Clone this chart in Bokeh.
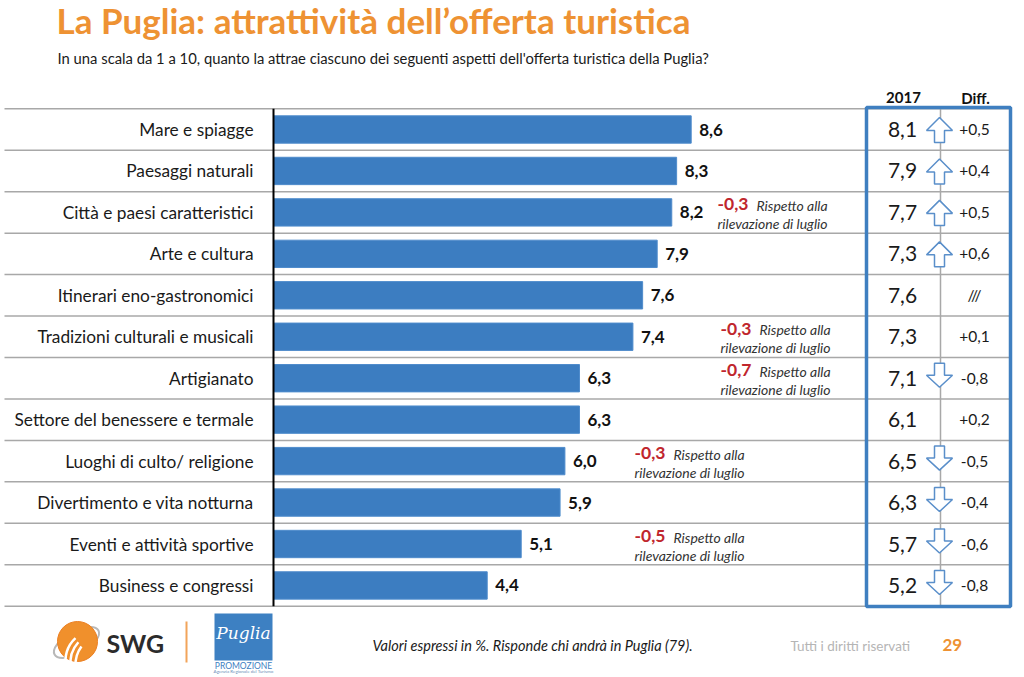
from bokeh.plotting import figure
from bokeh.models import Range1d, ColumnDataSource, Label
from bokeh.core.properties import value
from bokeh.embed import file_html
from bokeh.resources import INLINE

# ---------------- data ----------------
categories = ["Mare e spiagge", "Paesaggi naturali", "Città e paesi caratteristici",
              "Arte e cultura", "Itinerari eno-gastronomici", "Tradizioni culturali e musicali",
              "Artigianato", "Settore del benessere e termale", "Luoghi di culto/ religione",
              "Divertimento e vita notturna", "Eventi e attività sportive", "Business e congressi"]
scores = [8.6, 8.3, 8.2, 7.9, 7.6, 7.4, 6.3, 6.3, 6.0, 5.9, 5.1, 4.4]
scores_2017 = [8.1, 7.9, 7.7, 7.3, 7.6, 7.3, 7.1, 6.1, 6.5, 6.3, 5.7, 5.2]
july_change = [None, None, -0.3, None, None, -0.3, -0.7, None, -0.3, None, -0.5, None]

title = "La Puglia: attrattività dell\u2019offerta turistica"
subtitle = "In una scala da 1 a 10, quanto la attrae ciascuno dei seguenti aspetti dell'offerta turistica della Puglia?"
footnote = "Valori espressi in %. Risponde chi andrà in Puglia (79)."
rights = "Tutti i diritti riservati"
page_no = "29"

# ---------------- layout ----------------
W, H = 1024, 677
X0, PXU = 273.0, 48.57      # pixel of value 0, pixels per unit
Y0, ROW = 129.0, 41.45      # pixel of first row centre, row pitch


def X(px):
    return (px - X0) / PXU


def Y(py):
    return (py - Y0) / ROW


FNAME = "Lato"
FONT = value(FNAME)
BLUE = "#3c7dc1"
ORANGE = "#ee9233"
RED = "#c0262d"
GRID = "#a8a8a8"

note_px = {2: 717, 5: 720, 6: 720, 8: 634, 10: 634}


def fmt(v):
    return f"{v:.1f}".replace(".", ",")


n = len(categories)
idx = list(range(n))

p = figure(width=W, height=H, x_range=Range1d(X(0), X(W)), y_range=Range1d(Y(H), Y(0)),
           output_backend="svg", toolbar_location=None, min_border=0,
           x_axis_location=None, y_axis_location=None)
p.grid.visible = False
p.outline_line_color = None
p.background_fill_color = "white"
p.border_fill_color = "white"

# row separators
seps = [i - 0.5 for i in range(n + 1)]
p.segment(x0=[X(4)] * len(seps), x1=[X(1010)] * len(seps), y0=seps, y1=seps,
          line_color=GRID, line_width=1.5)

# bars
src = ColumnDataSource(dict(y=idx, cat=categories, v=scores,
                            vlab=[fmt(s) for s in scores]))
p.hbar(y="y", left=0, right="v", height=0.66, source=src,
       fill_color=BLUE, line_color="#4f8ccc", line_width=1)

# axis line
p.segment(x0=[0], x1=[0], y0=[-0.5], y1=[n - 0.5], line_color="black", line_width=2)

# category labels
p.text(x=0, y="y", text="cat", source=src, x_offset=-20, text_align="right",
       text_baseline="middle", text_font=FONT, text_font_size="17.3px", text_color="#1a1a1a")

# value labels
p.text(x="v", y="y", text="vlab", source=src, x_offset=8, text_align="left",
       text_baseline="middle", text_font=FONT, text_font_size="17px",
       text_font_style="bold", text_color="#111111")

# notes vs July
nx, ny, nt = [], [], []
for i, c in enumerate(july_change):
    if c is None:
        continue
    nx.append(X(note_px[i]))
    ny.append(i)
    nt.append(fmt(c))
p.text(x=nx, y=[y - 8 / ROW for y in ny], text=nt, text_align="left", text_baseline="middle",
       text_font=FONT, text_font_size="17.5px", text_font_style="bold", text_color=RED)
p.text(x=[x + 39 / PXU for x in nx], y=[y - 7 / ROW for y in ny], text=["Rispetto alla"] * len(nx),
       text_align="left", text_baseline="middle", text_font=FONT, text_font_size="14px",
       text_font_style="italic", text_color="#333333")
p.text(x=nx, y=[y + 11 / ROW for y in ny], text=["rilevazione di luglio"] * len(nx),
       text_align="left", text_baseline="middle", text_font=FONT, text_font_size="14px",
       text_font_style="italic", text_color="#333333")

# ---- 2017 table ----
p.segment(x0=[X(940)], x1=[X(940)], y0=[-0.5], y1=[n - 0.5], line_color=GRID, line_width=1.5)

diffs = [round(s - o, 1) for s, o in zip(scores, scores_2017)]
diff_lab = ["///" if d == 0 else f"{d:+.1f}".replace(".", ",") for d in diffs]

# arrows
up_t = [(0, -12), (13, 1), (5, 1), (5, 13), (-5, 13), (-5, 1), (-13, 1)]
dn_t = [(-5, -15), (5, -15), (5, -3), (13, -3), (0, 9), (-13, -3), (-5, -3)]
axs, ays = [], []
for i, d in enumerate(diffs):
    if abs(d) < 0.3:
        continue
    t = up_t if d > 0 else dn_t
    axs.append([X(939) + dx / PXU for dx, dy in t])
    ays.append([i + dy / ROW for dx, dy in t])
p.patches(xs=axs, ys=ays, fill_color="white", line_color="#5a8fca", line_width=1.5)

p.text(x=[X(902)] * n, y=idx, text=[fmt(v) for v in scores_2017], text_align="center",
       text_baseline="middle", text_font=FONT, text_font_size="21px", text_color="#1a1a1a")
p.text(x=[X(974)] * n, y=idx, text=diff_lab, text_align="center",
       text_baseline="middle", text_font=FONT, text_font_size="15.5px", text_color="#1a1a1a")

p.text(x=[X(903), X(975)], y=[Y(97)] * 2, text=["2017", "Diff."], text_align="center",
       text_baseline="middle", text_font=FONT, text_font_size="15px", text_font_style="bold",
       text_color="#111111")

p.quad(left=[X(866)], right=[X(1010)], top=[Y(107)], bottom=[Y(606)],
       fill_color=None, line_color="#3f7fc0", line_width=3.5)

# ---- title & subtitle ----
p.add_layout(Label(x=X(56), y=Y(19), text=title, text_font=FNAME, text_font_size="35px",
                   text_font_style="bold", text_color=ORANGE, text_baseline="middle"))
p.add_layout(Label(x=X(57), y=Y(57), text=subtitle, text_font=FNAME, text_font_size="14.8px",
                   text_color="#1a1a1a", text_baseline="middle"))

# ---- footer ----
p.ellipse(x=[X(76)], y=[Y(642)], width=[50], height=[22], width_units="screen",
          height_units="screen", angle=0.5, fill_color=None, line_color="#b8b8b8", line_width=2)
p.scatter(x=[X(77)], y=[Y(641)], size=40, fill_color="#f0902c", line_color="#ec7f22")
p.arc(x=[X(95), X(100), X(105)], y=[Y(660), Y(662), Y(664)], radius=[30, 30, 30],
      radius_units="screen", start_angle=[2.3, 2.4, 2.5], end_angle=[3.4, 3.3, 3.2],
      line_color="white", line_width=2.5)
p.add_layout(Label(x=X(106), y=Y(642), text="SWG", text_font=FNAME, text_font_size="25px",
                   text_font_style="bold", text_color="#2b2b2b", text_baseline="middle"))
p.segment(x0=[X(186)], x1=[X(186)], y0=[Y(621)], y1=[Y(662)], line_color="#f2a45a", line_width=2)

p.quad(left=[X(214)], right=[X(272)], top=[Y(613)], bottom=[Y(660)],
       fill_color="#3d80c2", line_color=None)
p.add_layout(Label(x=X(243), y=Y(632), text="Puglia", text_font="DejaVu Serif",
                   text_font_size="17px", text_font_style="italic", text_color="white",
                   text_align="center", text_baseline="middle"))
p.add_layout(Label(x=X(243), y=Y(665), text="PROMOZIONE", text_font=FNAME,
                   text_font_size="8.5px", text_color="#3d80c2",
                   text_align="center", text_baseline="middle"))
p.add_layout(Label(x=X(243), y=Y(671), text="Agenzia Regionale del Turismo", text_font=FNAME,
                   text_font_size="4.5px", text_color="#6a8fb8",
                   text_align="center", text_baseline="middle"))

p.add_layout(Label(x=X(372), y=Y(645), text=footnote, text_font=FNAME, text_font_size="14.5px",
                   text_font_style="italic", text_color="#1a1a1a", text_baseline="middle"))
p.add_layout(Label(x=X(790), y=Y(645), text=rights, text_font=FNAME, text_font_size="13.5px",
                   text_color="#b5b5b5", text_baseline="middle"))
p.add_layout(Label(x=X(942), y=Y(644), text=page_no, text_font=FNAME, text_font_size="17px",
                   text_font_style="bold", text_color=ORANGE, text_baseline="middle"))

open("out.html", "w").write(file_html(p, INLINE))
